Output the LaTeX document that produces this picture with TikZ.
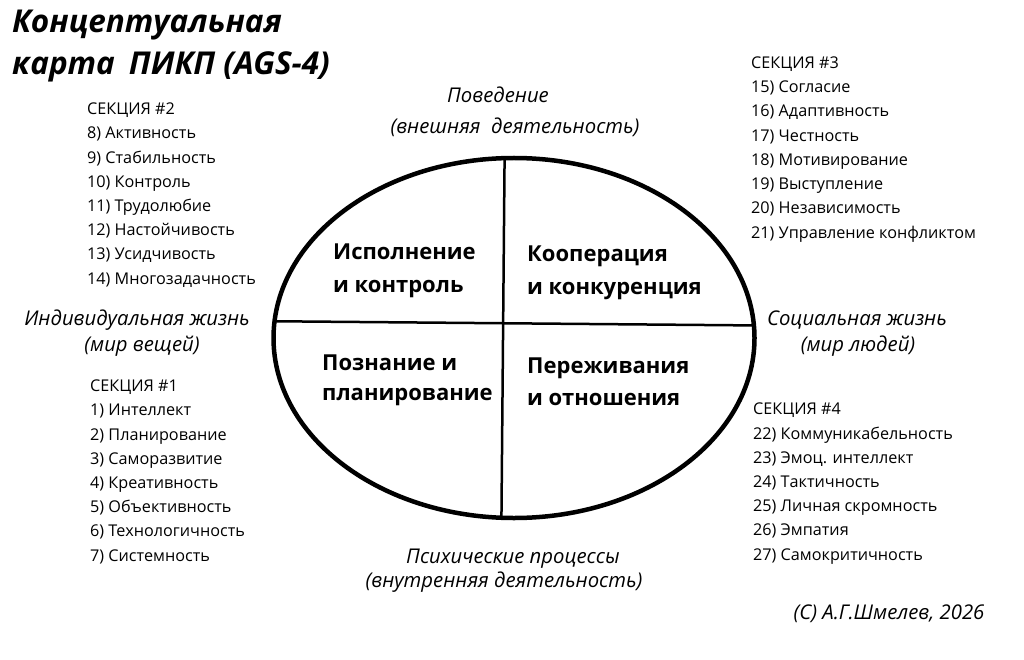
\documentclass[tikz,border=0pt]{standalone}
\usepackage{fontspec}
\setmainfont{Open Sans}
\usetikzlibrary{shapes.geometric}

\begin{document}
\begin{tikzpicture}[x=1pt,y=-1pt,
	section/.style={
		anchor=base west,
		inner sep=0pt,
		align=left,
		font=\fontsize{16.2}{24.2}\selectfont},
	quadrant/.style={
		anchor=base west,
		inner sep=0pt,
		align=left,
		font=\fontsize{22}{33}\selectfont\bfseries},
	axis/.style={
		anchor=base,
		inner sep=0pt,
		font=\fontsize{20.3}{26}\selectfont\itshape},
	divider/.style={
		draw,
		line width=2.5pt}]

    \fill[white] (0,0) rectangle (1024,660);
    \useasboundingbox (0,0) rectangle (1024,660);

    % Place nodes
    \node [anchor=base west, inner sep=0pt, align=left,
      font=\fontsize{31.5}{42}\selectfont\bfseries\itshape] (title) at (12,75)
      {Концептуальная\\карта\hspace{0.45em}ПИКП (AGS-4)};
    \node [draw, ellipse, line width=4.5pt, inner sep=0pt, outer sep=0pt,
      minimum width=481pt, minimum height=360pt] (oval) at (514,338) {};
    \node [quadrant] (exec) at (333,292) {Исполнение\\и контроль};
    \node [quadrant] (coop) at (527,294) {Кооперация\\и конкуренция};
    \node [quadrant, font=\fontsize{22}{30}\selectfont\bfseries] (cogn) at (322,400) {Познание и\\планирование};
    \node [quadrant, font=\fontsize{22}{32}\selectfont\bfseries] (emot) at (527,405) {Переживания\\и отношения};
    \node [axis] (behav) at (498,103) {Поведение};
    \node [axis] (behavsub) at (515,134) {(внешняя~ деятельность)};
    \node [axis] (indiv) at (137,325) {Индивидуальная жизнь};
    \node [axis] (indivsub) at (142,351) {(мир вещей)};
    \node [axis] (social) at (857,325) {Социальная жизнь};
    \node [axis] (socialsub) at (858,351) {(мир людей)};
    \node [axis] (psych) at (513,563) {Психические процессы};
    \node [axis] (psychsub) at (504,587) {(внутренняя деятельность)};
    \node [axis] (copy) at (889,619) {(C) А.Г.Шмелев, 2026};
    \node [section] (sec2) at (87,284) {СЕКЦИЯ \#2\\8) Активность\\9) Стабильность\\10) Контроль\\11) Трудолюбие\\12) Настойчивость\\13) Усидчивость\\14) Многозадачность};
    \node [section] (sec1) at (90,561) {СЕКЦИЯ \#1\\1) Интеллект\\2) Планирование\\3) Саморазвитие\\4) Креативность\\5) Объективность\\6) Технологичность\\7) Системность};
    \node [section] (sec3) at (751,238) {СЕКЦИЯ \#3\\15) Согласие\\16) Адаптивность\\17) Честность\\18) Мотивирование\\19) Выступление\\20) Независимость\\21) Управление конфликтом};
    \node [section] (sec4) at (753,560) {СЕКЦИЯ \#4\\22) Коммуникабельность\\23) Эмоц. интеллект\\24) Тактичность\\25) Личная скромность\\26) Эмпатия\\27) Самокритичность};
    % Draw edges
    \path [divider] (oval.93.5) -- (oval.266.2);
    \path [divider] (oval.176.9) -- (oval.3.1);
\end{tikzpicture}
\end{document}
